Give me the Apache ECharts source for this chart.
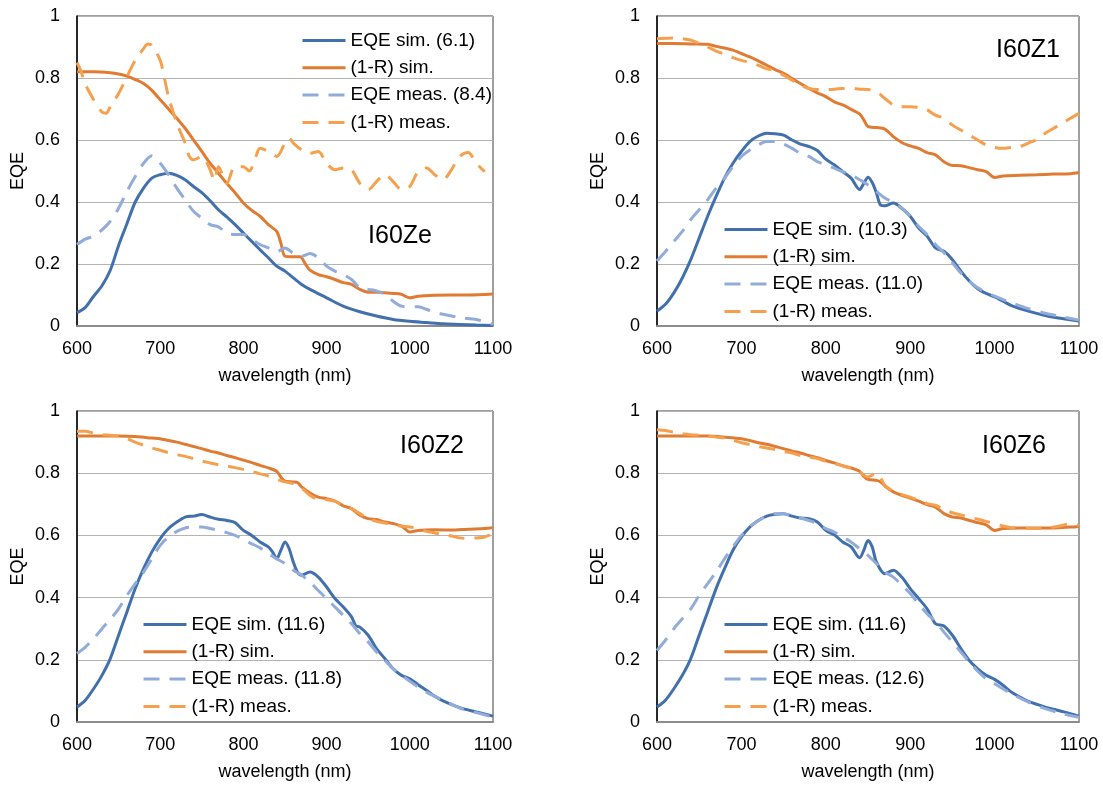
<!DOCTYPE html>
<html>
<head>
<meta charset="utf-8">
<script src="https://cdn.jsdelivr.net/npm/echarts@6/dist/echarts.min.js"></script>
<style>
html,body{margin:0;padding:0;background:#fff;}
#chart{width:1103px;height:785px;}
</style>
</head>
<body>
<div id="chart"></div>
<script>
// ---------- Data ----------
const X_TICKS = [600, 700, 800, 900, 1000, 1100];
const Y_TICKS = [0, 0.2, 0.4, 0.6, 0.8, 1];
const PANEL_LABELS = ['I60Ze', 'I60Z1', 'I60Z2', 'I60Z6'];
const NAMES_P1 = ['EQE sim. (6.1)', '(1-R) sim.', 'EQE meas. (8.4)', '(1-R) meas.'];
const NAMES_P2 = ['EQE sim. (10.3)', '(1-R) sim.', 'EQE meas. (11.0)', '(1-R) meas.'];
const NAMES_P3 = ['EQE sim. (11.6)', '(1-R) sim.', 'EQE meas. (11.8)', '(1-R) meas.'];
const NAMES_P4 = ['EQE sim. (11.6)', '(1-R) sim.', 'EQE meas. (12.6)', '(1-R) meas.'];

const WL10 = [600,610,620,630,640,650,660,670,680,690,700,710,720,730,740,750,760,770,780,790,800,810,820,830,840,850,860,870,880,890,900,910,920,930,940,950,960,970,980,990,1000,1010,1020,1030,1040,1050,1060,1070,1080,1090,1100];
const WL_MEAS = [600,610,620,630,640,650,660,670,680,690,700,710,720,730,740,750,760,770,780,790,800,810,820,830,840,850,860,870,880,890,900,910,920,930,940,950,960,970,980,990,1000,1020,1040,1060,1080,1100];

// Panel 1 (I60Ze)
const p1_eqeSim_x = [600,610,620,630,640,650,660,670,680,690,700,710,720,730,740,750,760,770,780,790,800,810,820,830,840,850,860,870,880,900,920,940,960,980,1000,1020,1040,1060,1080,1100];
const p1_eqeSim_y = [0.043,0.06,0.096,0.13,0.18,0.26,0.33,0.40,0.445,0.477,0.488,0.493,0.486,0.472,0.45,0.43,0.404,0.375,0.352,0.327,0.30,0.273,0.246,0.22,0.193,0.177,0.155,0.134,0.118,0.091,0.064,0.046,0.032,0.021,0.015,0.011,0.007,0.005,0.003,0.002];
const p1_rSim_x = [600,620,640,650,660,670,680,690,700,710,720,730,740,750,760,770,780,790,800,810,820,830,840,845,850,860,868,875,880,890,900,910,920,930,940,950,960,970,980,990,1000,1010,1030,1050,1070,1100];
const p1_rSim_y = [0.82,0.82,0.817,0.813,0.806,0.795,0.782,0.76,0.73,0.70,0.67,0.638,0.60,0.563,0.525,0.493,0.46,0.43,0.397,0.373,0.354,0.327,0.305,0.268,0.225,0.223,0.223,0.198,0.18,0.166,0.159,0.15,0.14,0.134,0.118,0.109,0.109,0.107,0.105,0.102,0.091,0.096,0.099,0.10,0.10,0.103];
const p1_eqeMeas_x = [600,610,620,630,640,650,660,670,680,690,700,710,720,730,740,750,760,770,780,790,800,810,820,830,840,850,860,870,880,890,900,910,920,930,940,950,960,970,980,990,1000,1010,1020,1030,1040,1060,1080,1100];
const p1_eqeMeas_y = [0.263,0.28,0.29,0.31,0.338,0.38,0.434,0.482,0.525,0.549,0.525,0.488,0.445,0.407,0.37,0.348,0.327,0.32,0.30,0.295,0.295,0.28,0.263,0.252,0.24,0.252,0.235,0.225,0.234,0.22,0.193,0.177,0.166,0.15,0.123,0.118,0.113,0.102,0.08,0.064,0.062,0.062,0.054,0.043,0.038,0.027,0.021,0.005];
const p1_rMeas_x = [600,605,610,620,630,635,640,650,660,670,680,685,690,700,705,710,720,730,735,740,750,760,765,770,780,790,800,807,815,820,830,840,850,855,860,870,880,890,900,910,920,930,940,950,960,970,980,990,1000,1010,1020,1030,1040,1050,1060,1070,1080,1090];
const p1_rMeas_y = [0.85,0.82,0.78,0.73,0.69,0.686,0.707,0.75,0.804,0.857,0.895,0.91,0.905,0.857,0.80,0.74,0.654,0.59,0.547,0.536,0.547,0.504,0.47,0.514,0.46,0.514,0.514,0.50,0.547,0.573,0.563,0.547,0.59,0.606,0.59,0.568,0.557,0.563,0.525,0.504,0.51,0.504,0.46,0.44,0.466,0.488,0.466,0.44,0.45,0.498,0.51,0.488,0.472,0.504,0.547,0.56,0.525,0.498];

// Panel 2 (I60Z1)
const p2_eqeSim_x = [600,610,620,630,640,650,660,670,680,690,700,710,720,730,740,750,760,770,780,790,800,810,820,830,840,845,850,855,860,865,870,880,890,900,910,920,930,940,950,960,970,980,990,1000,1010,1020,1040,1060,1080,1100];
const p2_eqeSim_y = [0.048,0.07,0.107,0.155,0.214,0.284,0.354,0.418,0.477,0.525,0.563,0.595,0.613,0.622,0.62,0.616,0.60,0.587,0.579,0.566,0.538,0.52,0.498,0.477,0.44,0.46,0.48,0.463,0.429,0.39,0.388,0.397,0.38,0.354,0.316,0.29,0.252,0.241,0.214,0.177,0.145,0.12,0.105,0.094,0.08,0.066,0.048,0.034,0.024,0.016];
const p2_rSim_x = [600,620,640,660,670,680,690,700,710,720,730,740,750,760,770,780,790,800,810,820,830,840,845,850,860,870,880,890,900,910,920,930,940,950,960,970,980,990,1000,1010,1030,1050,1070,1090,1100];
const p2_rSim_y = [0.911,0.911,0.91,0.909,0.902,0.897,0.89,0.879,0.868,0.855,0.841,0.827,0.815,0.798,0.782,0.766,0.752,0.74,0.723,0.713,0.699,0.684,0.665,0.643,0.64,0.635,0.611,0.592,0.581,0.573,0.559,0.552,0.53,0.518,0.517,0.511,0.504,0.498,0.479,0.484,0.486,0.488,0.49,0.491,0.495];
const p2_eqeMeas_y = [0.21,0.24,0.273,0.305,0.343,0.375,0.407,0.445,0.477,0.514,0.547,0.568,0.584,0.595,0.595,0.587,0.573,0.557,0.547,0.53,0.52,0.509,0.498,0.488,0.472,0.455,0.434,0.413,0.399,0.38,0.354,0.322,0.295,0.263,0.236,0.204,0.171,0.145,0.123,0.109,0.096,0.075,0.056,0.041,0.03,0.019];
const p2_rMeas_y = [0.927,0.928,0.929,0.927,0.922,0.911,0.90,0.887,0.877,0.866,0.857,0.85,0.841,0.83,0.823,0.809,0.793,0.777,0.766,0.763,0.763,0.764,0.766,0.767,0.764,0.763,0.756,0.734,0.713,0.707,0.707,0.705,0.697,0.68,0.67,0.648,0.632,0.616,0.60,0.584,0.576,0.573,0.576,0.579,0.59,0.602,0.622,0.638,0.654,0.67,0.686];

// Panel 3 (I60Z2)
const p3_eqeSim_x = [600,610,620,630,640,650,660,670,680,690,700,710,720,730,740,750,760,770,780,790,800,810,820,830,835,840,845,850,855,860,865,870,880,890,900,910,920,930,935,940,950,960,970,980,990,1000,1010,1020,1030,1040,1060,1080,1100];
const p3_eqeSim_y = [0.048,0.07,0.107,0.15,0.204,0.279,0.354,0.429,0.493,0.547,0.59,0.622,0.643,0.659,0.662,0.667,0.659,0.652,0.648,0.641,0.616,0.60,0.579,0.563,0.547,0.525,0.552,0.579,0.557,0.514,0.482,0.472,0.482,0.466,0.434,0.397,0.37,0.338,0.31,0.305,0.279,0.236,0.204,0.171,0.15,0.139,0.12,0.102,0.083,0.068,0.046,0.032,0.019];
const p3_rSim_x = [600,650,670,690,700,710,720,730,740,750,760,770,780,790,800,810,820,830,840,845,850,860,865,870,880,890,900,910,920,930,940,950,960,970,980,990,1000,1010,1030,1050,1070,1090,1100];
const p3_rSim_y = [0.92,0.92,0.918,0.913,0.911,0.905,0.90,0.893,0.886,0.879,0.871,0.865,0.857,0.85,0.842,0.834,0.825,0.817,0.806,0.788,0.774,0.772,0.77,0.756,0.736,0.723,0.718,0.71,0.695,0.686,0.665,0.654,0.651,0.643,0.638,0.63,0.611,0.616,0.618,0.617,0.62,0.622,0.625];
const p3_eqeMeas_y = [0.22,0.241,0.268,0.30,0.33,0.364,0.407,0.445,0.482,0.525,0.568,0.595,0.613,0.624,0.627,0.627,0.622,0.616,0.609,0.60,0.587,0.573,0.56,0.541,0.525,0.509,0.488,0.472,0.45,0.423,0.397,0.37,0.343,0.316,0.284,0.257,0.225,0.198,0.171,0.15,0.131,0.096,0.07,0.045,0.03,0.016];
const p3_rMeas_y = [0.935,0.935,0.929,0.924,0.922,0.92,0.911,0.90,0.89,0.881,0.874,0.866,0.86,0.854,0.847,0.839,0.833,0.827,0.823,0.818,0.812,0.806,0.798,0.791,0.78,0.772,0.766,0.752,0.729,0.716,0.715,0.71,0.697,0.686,0.67,0.654,0.645,0.64,0.635,0.63,0.627,0.622,0.613,0.608,0.602,0.598,0.592,0.59,0.592,0.595,0.606];

// Panel 4 (I60Z6)
const p4_eqeSim_x = [600,610,620,630,640,650,660,670,680,690,700,710,720,730,740,750,760,770,780,790,800,810,820,830,840,845,850,855,860,870,880,890,900,910,920,930,940,950,960,970,980,990,1000,1010,1020,1030,1040,1060,1080,1100];
const p4_eqeSim_y = [0.048,0.07,0.107,0.15,0.204,0.279,0.354,0.429,0.493,0.552,0.595,0.627,0.648,0.662,0.668,0.67,0.662,0.656,0.654,0.643,0.616,0.602,0.579,0.563,0.528,0.552,0.584,0.563,0.514,0.477,0.488,0.466,0.429,0.397,0.364,0.316,0.309,0.279,0.236,0.198,0.171,0.15,0.137,0.118,0.096,0.08,0.066,0.048,0.034,0.019];
const p4_rSim_x = [600,660,680,700,710,720,730,740,750,760,770,780,790,800,810,820,830,840,845,850,860,865,870,880,890,900,910,920,930,940,950,960,970,980,990,1000,1010,1030,1050,1070,1090,1100];
const p4_rSim_y = [0.92,0.92,0.916,0.911,0.905,0.898,0.893,0.886,0.879,0.871,0.865,0.857,0.85,0.841,0.833,0.824,0.817,0.806,0.79,0.78,0.777,0.772,0.759,0.74,0.729,0.72,0.71,0.699,0.691,0.67,0.659,0.656,0.648,0.641,0.634,0.616,0.622,0.624,0.624,0.624,0.627,0.629];
const p4_eqeMeas_y = [0.23,0.263,0.30,0.332,0.364,0.407,0.445,0.482,0.525,0.563,0.60,0.627,0.648,0.662,0.67,0.67,0.662,0.656,0.648,0.638,0.622,0.611,0.595,0.579,0.557,0.536,0.509,0.482,0.466,0.44,0.413,0.38,0.348,0.322,0.289,0.257,0.225,0.193,0.163,0.139,0.123,0.091,0.064,0.043,0.027,0.015];
const p4_rMeas_x = [600,610,620,630,640,650,660,670,680,690,700,710,720,730,740,750,760,770,780,790,800,810,820,830,840,850,860,865,870,880,890,900,910,920,930,940,950,960,970,980,990,1000,1010,1020,1030,1040,1050,1060,1070,1080,1090,1100];
const p4_rMeas_y = [0.94,0.937,0.932,0.927,0.924,0.922,0.92,0.916,0.913,0.906,0.898,0.892,0.886,0.881,0.876,0.87,0.865,0.857,0.852,0.847,0.838,0.831,0.824,0.815,0.804,0.788,0.80,0.785,0.761,0.742,0.731,0.723,0.713,0.702,0.697,0.683,0.673,0.666,0.659,0.652,0.645,0.638,0.63,0.625,0.624,0.622,0.622,0.624,0.627,0.632,0.638,0.632];

// ---------- Build ----------
function zip(xs, ys) { return xs.map((x, i) => [x, ys[i]]); }

const COLORS = ['#4270ad', '#e07b33', '#92acda', '#f6a04e'];
const DASH = [16, 10];
const FONT = 'Liberation Sans, Arial, sans-serif';

const panels = [
  { names: NAMES_P1, data: [zip(p1_eqeSim_x, p1_eqeSim_y), zip(p1_rSim_x, p1_rSim_y), zip(p1_eqeMeas_x, p1_eqeMeas_y), zip(p1_rMeas_x, p1_rMeas_y)],
    grid: { left: 77, top: 16, width: 416, height: 310 }, legend: { left: 301, top: 31 }, label: [400, 236] },
  { names: NAMES_P2, data: [zip(p2_eqeSim_x, p2_eqeSim_y), zip(p2_rSim_x, p2_rSim_y), zip(WL_MEAS, p2_eqeMeas_y), zip(WL10, p2_rMeas_y)],
    grid: { left: 657, top: 16, width: 422, height: 310 }, legend: { left: 723, top: 220 }, label: [1028, 50] },
  { names: NAMES_P3, data: [zip(p3_eqeSim_x, p3_eqeSim_y), zip(p3_rSim_x, p3_rSim_y), zip(WL_MEAS, p3_eqeMeas_y), zip(WL10, p3_rMeas_y)],
    grid: { left: 77, top: 411, width: 416, height: 311 }, legend: { left: 142, top: 615 }, label: [432, 446] },
  { names: NAMES_P4, data: [zip(p4_eqeSim_x, p4_eqeSim_y), zip(p4_rSim_x, p4_rSim_y), zip(WL_MEAS, p4_eqeMeas_y), zip(p4_rMeas_x, p4_rMeas_y)],
    grid: { left: 657, top: 411, width: 422, height: 311 }, legend: { left: 723, top: 615 }, label: [1014, 446] }
];

const option = {
  animation: false,
  backgroundColor: '#ffffff',
  textStyle: { fontFamily: FONT },
  grid: [], xAxis: [], yAxis: [], series: [], legend: [], graphic: []
};

panels.forEach((p, i) => {
  option.grid.push(Object.assign({ show: true, borderColor: '#404040', borderWidth: 1, backgroundColor: 'transparent' }, p.grid));
  option.xAxis.push({
    type: 'value', gridIndex: i, min: X_TICKS[0], max: X_TICKS[X_TICKS.length - 1], interval: 100,
    name: 'wavelength (nm)', nameLocation: 'middle', nameGap: 41,
    nameTextStyle: { fontSize: 18, color: '#000', fontFamily: FONT },
    axisLine: { show: true, lineStyle: { color: '#8c8c8c', width: 2 } },
    axisTick: { show: false },
    axisLabel: { fontSize: 18, color: '#000', margin: 14, fontFamily: FONT, formatter: v => String(v) },
    splitLine: { show: false }
  });
  option.yAxis.push({
    type: 'value', gridIndex: i, min: Y_TICKS[0], max: Y_TICKS[Y_TICKS.length - 1], interval: 0.2,
    name: 'EQE', nameLocation: 'middle', nameGap: 50,
    nameTextStyle: { fontSize: 18, color: '#000', fontFamily: FONT },
    axisLine: { show: true, lineStyle: { color: '#000', width: 1.5 } },
    axisTick: { show: false },
    axisLabel: { fontSize: 18, color: '#000', margin: 17, fontFamily: FONT, formatter: v => String(+v.toFixed(1)) },
    splitLine: { show: true, lineStyle: { color: '#b4b4b4', width: 1.2 } }
  });
  p.names.forEach((nm, k) => {
    option.series.push({
      type: 'line', name: nm, xAxisIndex: i, yAxisIndex: i,
      data: p.data[k], showSymbol: false, symbol: 'none', smooth: 0.3,
      lineStyle: { color: COLORS[k], width: 3, type: (k >= 2 ? DASH : 'solid') },
      itemStyle: { color: COLORS[k] },
      emphasis: { disabled: true }
    });
  });
  option.legend.push({
    data: p.names.map((nm, k) => ({
      name: nm,
      itemStyle: { opacity: 0, borderWidth: 0 },
      lineStyle: { color: COLORS[k], width: 3, type: (k >= 2 ? DASH : 'solid'), opacity: 1 }
    })),
    orient: 'vertical', left: p.legend.left, top: p.legend.top,
    itemWidth: 43, itemHeight: 14, itemGap: 8.3, selectedMode: false,
    textStyle: { fontSize: 19, color: '#000', fontFamily: FONT, lineHeight: 19 },
    padding: 0
  });
  option.graphic.push({
    type: 'text', x: p.label[0], y: p.label[1],
    style: { text: PANEL_LABELS[i], fontSize: 25, fontFamily: FONT, fill: '#000', align: 'center', verticalAlign: 'middle' }
  });
});

const chart = echarts.init(document.getElementById('chart'), null, { renderer: 'canvas' });
chart.setOption(option);
</script>
</body>
</html>
